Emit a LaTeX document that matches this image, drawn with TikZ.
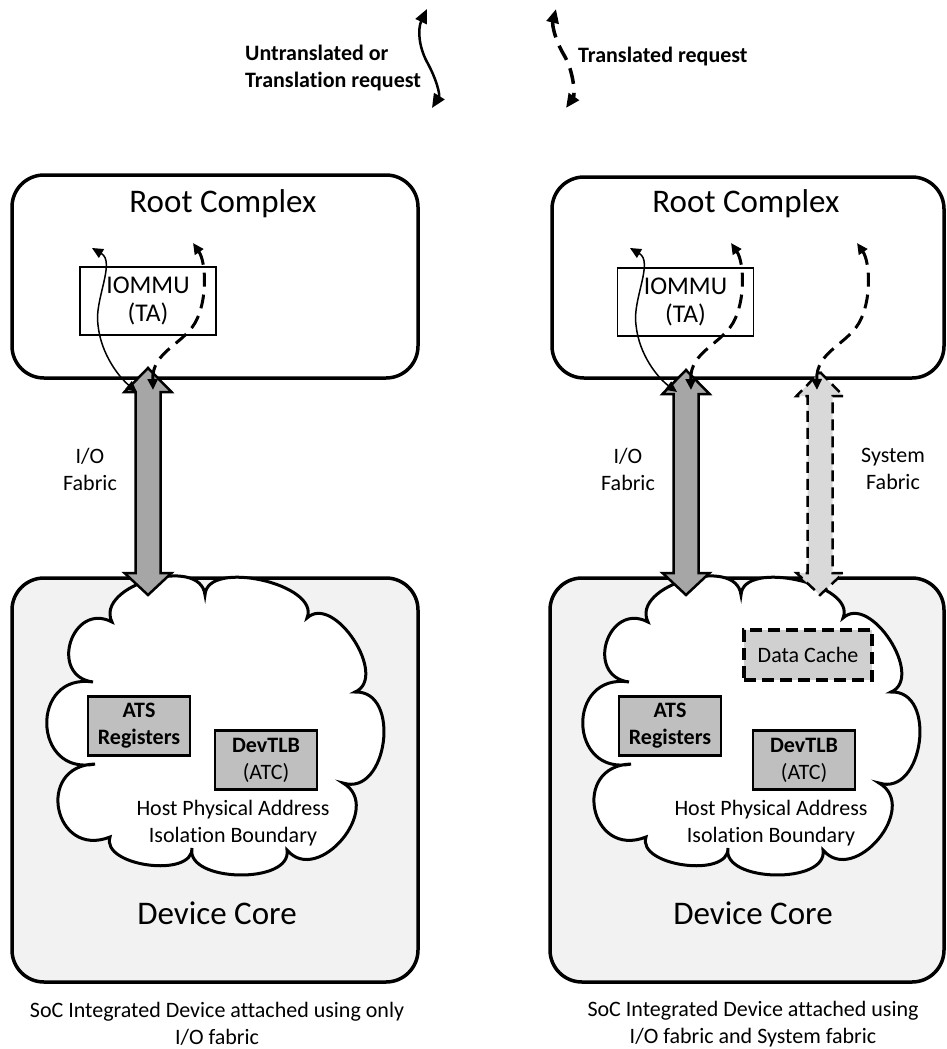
\documentclass[tikz,border=0pt]{standalone}
\usepackage{fontspec}
\setmainfont{Carlito}[Ligatures=NoCommon]
\usetikzlibrary{arrows.meta,calc}

\definecolor{coregray}{HTML}{F2F2F2}
\definecolor{iogray}{HTML}{A6A6A6}
\definecolor{sysgray}{HTML}{D9D9D9}
\definecolor{boxgray}{HTML}{BFBFBF}
\definecolor{cachegray}{HTML}{D0D0D0}

\newcommand{\bigfont}{\fontsize{33}{38}\selectfont}
\newcommand{\midfont}{\fontsize{25.5}{28}\selectfont}
\newcommand{\smallfont}{\fontsize{22}{27}\selectfont}

% the cloud of the host physical address boundary
\newcommand{\hostcloud}{%
  \coordinate (c1) at (205,595);
  \coordinate (c2) at (307,618);
  \coordinate (c3) at (355,692);
  \coordinate (c4) at (343,783);
  \coordinate (c5) at (287,850);
  \coordinate (c6) at (192,848);
  \coordinate (c7) at (110,837);
  \coordinate (c8) at (95,764);
  \coordinate (c9) at (93,682);
  \coordinate (c10) at (112,622);
  \draw[cloudline] (c1)
    .. controls ($(c1)!0.35!100:(c2)$) and ($(c2)!0.35!-100:(c1)$) .. (c2)
    .. controls ($(c2)!0.42!100:(c3)$) and ($(c3)!0.42!-100:(c2)$) .. (c3)
    .. controls ($(c3)!0.51!100:(c4)$) and ($(c4)!0.51!-100:(c3)$) .. (c4)
    .. controls ($(c4)!0.55!100:(c5)$) and ($(c5)!0.55!-100:(c4)$) .. (c5)
    .. controls ($(c5)!0.37!100:(c6)$) and ($(c6)!0.37!-100:(c5)$) .. (c6)
    .. controls ($(c6)!0.37!100:(c7)$) and ($(c7)!0.37!-100:(c6)$) .. (c7)
    .. controls ($(c7)!0.81!100:(c8)$) and ($(c8)!0.81!-100:(c7)$) .. (c8)
    .. controls ($(c8)!0.78!100:(c9)$) and ($(c9)!0.78!-100:(c8)$) .. (c9)
    .. controls ($(c9)!0.72!100:(c10)$) and ($(c10)!0.72!-100:(c9)$) .. (c10)
    .. controls ($(c10)!0.42!100:(c1)$) and ($(c1)!0.42!-100:(c10)$) .. cycle;
}

\tikzset{
  rcbox/.style={draw, line width=3.5pt, rounded corners=32pt},
  corebox/.style={draw, fill=coregray, line width=3.5pt, rounded corners=32pt},
  iommubox/.style={draw, line width=1.8pt, minimum width=136pt, minimum height=68pt,
    inner sep=0pt, align=center, font=\midfont},
  regbox/.style={draw, fill=boxgray, line width=2.5pt, minimum width=102pt,
    minimum height=59pt, inner sep=0pt, align=center, font=\smallfont},
  cachebox/.style={draw, fill=cachegray, line width=3.5pt, dash pattern=on 12pt off 6pt,
    minimum width=128pt, minimum height=50pt, inner sep=0pt, font=\smallfont},
  cloudline/.style={draw, fill=white, line width=3pt},
  iofabric/.style={draw, fill=iogray, line width=2.5pt, line join=miter},
  sysfabric/.style={draw, fill=sysgray, line width=2.5pt, dash pattern=on 11pt off 6pt},
  txt/.style={inner sep=0pt, align=center, font=\smallfont},
  bigtxt/.style={inner sep=0pt, align=center, font=\bigfont},
  legtxt/.style={inner sep=0pt, align=left, font=\smallfont\bfseries},
  untrans/.style={line width=1.5pt, {Triangle[length=11pt,width=10pt]}-{Triangle[length=11pt,width=10pt]}},
  trans/.style={line width=3pt, dash pattern=on 14pt off 8pt,
    {Triangle[length=11pt,width=10pt]}-{Triangle[length=11pt,width=10pt]}},
  leguntrans/.style={line width=2.5pt, {Triangle[length=14pt,width=12pt]}-{Triangle[length=14pt,width=12pt]}},
  legtrans/.style={line width=3.5pt, dash pattern=on 16pt off 9pt,
    {Triangle[length=14pt,width=12pt]}-{Triangle[length=14pt,width=12pt]}},
}

\begin{document}
\begin{tikzpicture}[x=1pt,y=-1pt]
\useasboundingbox (0,0) rectangle (947,1049);

% legend
\draw[leguntrans] (427,9) .. controls (418,28) and (418,45) .. (427,62)
  .. controls (437,80) and (440,95) .. (432,108);
\node[legtxt, anchor=west] (legU) at (245,68) {Untranslated or\\Translation request};
\draw[legtrans] (556,9) .. controls (552,25) and (555,40) .. (564,55)
  .. controls (574,72) and (575,95) .. (566,108);
\node[legtxt, anchor=west] (legT) at (578,57) {Translated request};

% left: only I/O fabric
\node[rcbox, minimum width=406pt, minimum height=203pt] (rcL) at (215,276.5) {};
\node[bigtxt] (rcLtext) at (223,204) {Root Complex};
\node[iommubox] (iommuL) at (148,301) {IOMMU\\(TA)};
\node[corebox, minimum width=406pt, minimum height=404pt] (dcL) at (215,780) {};
\hostcloud
\node[regbox] (atsL) at (139,726) {\bfseries ATS\\\bfseries Registers};
\node[regbox] (tlbL) at (266,760) {\bfseries DevTLB\\(ATC)};
\node[txt] (hpaL) at (233,823) {Host Physical Address\\Isolation Boundary};
\node[bigtxt] (dcLtext) at (217,913) {Device Core};
\node[txt] (ioLtext) at (90,469) {I/O\\Fabric};
\node[txt] (capL) at (217,1024) {SoC Integrated Device attached using only\\I/O fabric};
\coordinate (ioLtop) at (148,368);
\coordinate (ioLbot) at (148,595);
\draw[iofabric] (ioLtop) -- ++(23.5,24) -- ++(-11,0) -- ++(0,181) -- ++(11,0) -- (ioLbot)
  -- ++(-23.5,-22) -- ++(11,0) -- ++(0,-181) -- ++(-11,0) -- cycle;
\draw[untrans] (92,248) .. controls (116,262) and (94,300) .. (98,325)
  .. controls (101,355) and (120,378) .. (137,392);
\draw[trans] (193,243) .. controls (206,262) and (208,300) .. (195,323)
  .. controls (182,345) and (152,352) .. (153,390);

% right: I/O fabric and system fabric
\node[rcbox, minimum width=392pt, minimum height=201pt] (rcR) at (748,277.5) {};
\node[bigtxt] (rcRtext) at (746,204) {Root Complex};
\node[iommubox] (iommuR) at (685.5,302) {IOMMU\\(TA)};
\node[corebox, minimum width=394pt, minimum height=404pt] (dcR) at (747,780) {};
\begin{scope}[xshift=536pt]
\hostcloud
\end{scope}
\node[cachebox] (cacheR) at (808,655) {Data Cache};
\node[regbox] (atsR) at (670,726) {\bfseries ATS\\\bfseries Registers};
\node[regbox] (tlbR) at (804,760) {\bfseries DevTLB\\(ATC)};
\node[txt] (hpaR) at (771,823) {Host Physical Address\\Isolation Boundary};
\node[bigtxt] (dcRtext) at (753,913) {Device Core};
\node[txt] (ioRtext) at (628,469) {I/O\\Fabric};
\node[txt] (sysRtext) at (893,469) {System\\Fabric};
\node[txt] (capR) at (753,1024) {SoC Integrated Device attached using\\I/O fabric and System fabric};
\coordinate (ioRtop) at (686,370);
\coordinate (ioRbot) at (686,595);
\draw[iofabric] (ioRtop) -- ++(23.5,24) -- ++(-11,0) -- ++(0,179) -- ++(11,0) -- (ioRbot)
  -- ++(-23.5,-22) -- ++(11,0) -- ++(0,-179) -- ++(-11,0) -- cycle;
\coordinate (sysRtop) at (820,372);
\coordinate (sysRbot) at (820,595);
\draw[sysfabric] (sysRtop) -- ++(23.5,24) -- ++(-11,0) -- ++(0,177) -- ++(11,0) -- (sysRbot)
  -- ++(-23.5,-22) -- ++(11,0) -- ++(0,-177) -- ++(-11,0) -- cycle;
\begin{scope}[xshift=538pt]
\draw[untrans] (92,248) .. controls (116,262) and (94,300) .. (98,325)
  .. controls (101,355) and (120,378) .. (139,392);
\draw[trans] (193,243) .. controls (206,262) and (208,300) .. (195,323)
  .. controls (182,345) and (152,352) .. (153,390);
\end{scope}
\begin{scope}[xshift=664pt]
\draw[trans] (193,243) .. controls (206,262) and (208,300) .. (195,323)
  .. controls (182,345) and (152,352) .. (153,390);
\end{scope}
\end{tikzpicture}
\end{document}
